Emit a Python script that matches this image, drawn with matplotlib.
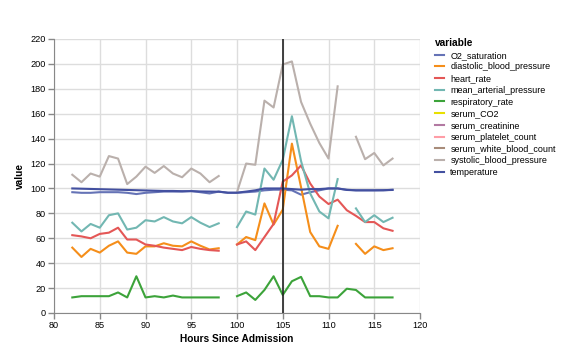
import numpy as np
import matplotlib
matplotlib.use("Agg")
import matplotlib.pyplot as plt
from matplotlib.lines import Line2D

plt.rcParams["font.family"] = ["Liberation Sans", "DejaVu Sans"]

nan = np.nan

# hours since admission (one reading per hour, gaps = nan)
hours = list(range(82, 118))

o2_saturation = [97, 96.5, 96.5, 97, 97, 97, 96.5, 95.5, 96.5, 97, 97.5, 97.5, 97.5, 98, 97, 96, 97.5,
                 96.5, 96.5, 97, 97.5, 98.5, 99, 99, 98.5, 95, 97, 98.5, 100, 100, 99,
                 98.5, 98.5, 98.5, 98.5, 99]
diastolic_bp = [52.5, 45, 51.5, 48.5, 54, 57.5, 48.5, 47.5, 53.5, 53.5, 56, 54, 53.5, 57.5, 54, 51, 52,
                nan, 55, 61, 58.5, 88, 71, 83, 136, 101, 65, 53.5, 51.5, 70, nan,
                55.5, 47.5, 53.5, 50.5, 52]
heart_rate = [62.5, 61.5, 60, 63.5, 64.5, 68.5, 59, 59, 55, 54, 52.5, 51.5, 50.5, 53, 51.5, 50.5, 50,
              nan, 55, 57.5, 50.5, 61, 71.5, 105.5, 110.5, 118.5, 104, 93.5, 87.5, 91, 82.5,
              78, 73, 73, 68, 66]
mean_arterial = [72.5, 65.5, 71.5, 68.5, 78.5, 80, 67, 68.5, 74.5, 73.5, 77, 73.5, 72, 77, 72.5, 69, 72,
                 nan, 69, 81.5, 79, 116, 107, 123, 158, 122, 96, 81.5, 76, 107.5, nan,
                 84, 73, 78.5, 73, 76.5]
respiratory_rate = [12.5, 13.5, 13.5, 13.5, 13.5, 16.5, 12.5, 29.5, 12.5, 13.5, 12.5, 14, 12.5, 12.5, 12.5, 12.5, 12.5,
                    nan, 13.5, 16.5, 10.5, 18.5, 29.5, 14.5, 25.5, 29, 13.5, 13.5, 12.5, 12.5, 19.5,
                    18.5, 12.5, 12.5, 12.5, 12.5]
systolic_bp = [111, 105, 112, 109.5, 126, 124, 103.5, 109.5, 117.5, 112.5, 118, 112, 109, 116, 112, 105, 110,
               nan, 97, 120, 119, 170.5, 165, 199.5, 202, 169.5, 152, 136.5, 124, 182, nan,
               141.5, 123.5, 128.5, 118.5, 124]
temperature = [100, 99.8, 99.6, 99.4, 99.2, 99, 98.8, 98.6, 98.4, 98.2, 98, 98, 97.8, 97.8, 97.6, 97.5, 97.4,
               96.6, 96.6, 97.5, 98.5, 100, 100, 100, 99.5, 99, 99.5, 99.5, 100, 100, 98.8,
               98.5, 98.5, 98.5, 98.6, 98.8]

variables = ["O2_saturation", "diastolic_blood_pressure", "heart_rate", "mean_arterial_pressure",
             "respiratory_rate", "serum_CO2", "serum_creatinine", "serum_platelet_count",
             "serum_white_blood_count", "systolic_blood_pressure", "temperature"]
colors = ["#6573b6", "#f58e1a", "#e45756", "#72b7b2", "#3ca33a", "#e8e000", "#b279a2",
          "#ff9da6", "#a88c7a", "#bab0ac", "#4350a0"]
series = {
    "O2_saturation": o2_saturation,
    "diastolic_blood_pressure": diastolic_bp,
    "heart_rate": heart_rate,
    "mean_arterial_pressure": mean_arterial,
    "respiratory_rate": respiratory_rate,
    "systolic_blood_pressure": systolic_bp,
    "temperature": temperature,
}
marker_hour = 105

fig = plt.figure(figsize=(5.69, 3.62), dpi=100)
ax = fig.add_axes([54 / 569, 1 - 313 / 362, 366 / 569, 274 / 362])

for name, col in zip(variables, colors):
    if name in series:
        ax.plot(hours, series[name], color=col, lw=1.5, zorder=3)

ax.axvline(marker_hour, color="#222222", lw=1.2, zorder=4)

ax.set_xlim(80, 120)
ax.set_ylim(0, 220)
ax.set_xticks(range(80, 121, 5))
ax.set_yticks(range(0, 221, 20))
ax.grid(True, color="#dddddd", lw=1)
ax.set_axisbelow(True)
for s in ["top", "right"]:
    ax.spines[s].set_visible(False)
for s in ["left", "bottom"]:
    ax.spines[s].set_color("#888888")
ax.tick_params(colors="#888888", labelcolor="black", labelsize=6.6, length=4, width=1, pad=2)

ax.set_xlabel("Hours Since Admission", fontsize=7.3, fontweight="bold", labelpad=3)
ax.set_ylabel("value", fontsize=7.3, fontweight="bold", labelpad=4)

handles = [Line2D([], [], color=c, lw=1.5) for c in colors]
leg = fig.legend(handles, variables, loc="upper left", bbox_to_anchor=(435 / 569, 1 - 38 / 362),
                 frameon=False, fontsize=6.5, title="variable", handlelength=1.0,
                 handletextpad=0.7, labelspacing=0.3, borderaxespad=0, borderpad=0,
                 alignment="left", title_fontproperties={"weight": "bold", "size": 7.3})

fig.savefig("out.png", dpi=100)
